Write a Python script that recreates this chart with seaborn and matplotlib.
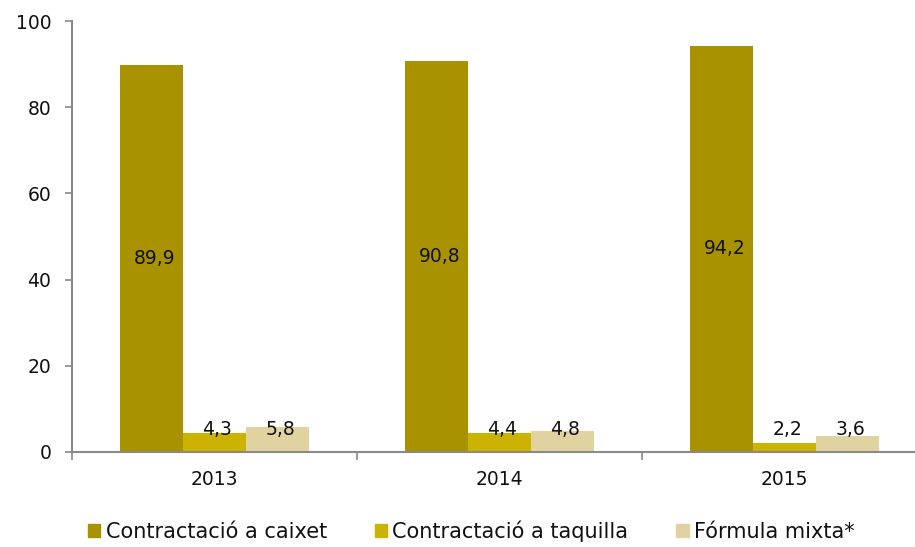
import numpy as np
import pandas as pd
import matplotlib
matplotlib.use('Agg')
import matplotlib.pyplot as plt
import seaborn as sns

sns.set_style('ticks')
plt.rcParams['font.family'] = ['DejaVu Sans']
plt.rcParams['text.color'] = '#111111'
plt.rcParams['xtick.labelcolor'] = '#111111'
plt.rcParams['ytick.labelcolor'] = '#111111'

# dades
years = ['2013', '2014', '2015']
series = ['Contractació a caixet', 'Contractació a taquilla', 'Fórmula mixta*']
caixet = [89.9, 90.8, 94.2]
taquilla = [4.3, 4.4, 2.2]
mixta = [5.8, 4.8, 3.6]
colors = ['#A89200', '#CCB300', '#E0D3A0']

df = pd.DataFrame({
    'any': years * 3,
    'tipus': [s for s in series for _ in years],
    'valor': caixet + taquilla + mixta,
})

fig = plt.figure(figsize=(9.15, 5.47), dpi=100)
ax = fig.add_axes([0.0787, 0.1737, 0.9213, 0.7879])

sns.barplot(data=df, x='any', y='valor', hue='tipus', order=years,
            hue_order=series, palette=colors, width=0.663, gap=0,
            saturation=1, linewidth=0, ax=ax, legend=False)

# etiquetes de dades
for cont, s in zip(ax.containers, series):
    for bar, v in zip(cont, df.loc[df.tipus == s, 'valor']):
        x = bar.get_x() + bar.get_width() / 2
        y = v / 2 if v > 20 else 5.3
        ax.text(x + 0.01, y, f'{v:.1f}'.replace('.', ','), ha='center',
                va='center', fontsize=13.5, color='#111111')

ax.set_yticks(range(0, 101, 20))
ax.set_xticks([-0.5, 0.5, 1.5, 2.5], minor=True)
ax.set_xlim(-0.5, 2.458)
ax.set_ylim(0, 100)
ax.set_xlabel('')
ax.set_ylabel('')
ax.tick_params(axis='x', which='major', length=0, pad=13, labelsize=13.5)
ax.tick_params(axis='x', which='minor', length=6, width=1.2, color='#898989',
               direction='out')
ax.tick_params(axis='y', length=5, width=1.2, color='#898989', pad=10,
               labelsize=13.5)
sns.despine(ax=ax, top=True, right=True)
for sp in ['left', 'bottom']:
    ax.spines[sp].set_color('#898989')
    ax.spines[sp].set_linewidth(1.5)

handles = [plt.Rectangle((0, 0), 1, 1, color=c) for c in colors]
fig.legend(handles, series, loc='center', bbox_to_anchor=(0.515, 0.029),
           ncol=3, frameon=False, handlelength=0.6, handleheight=0.6,
           handletextpad=0.25, columnspacing=2.3, fontsize=15,
           borderpad=0, borderaxespad=0)

fig.savefig('out.png', dpi=100)
